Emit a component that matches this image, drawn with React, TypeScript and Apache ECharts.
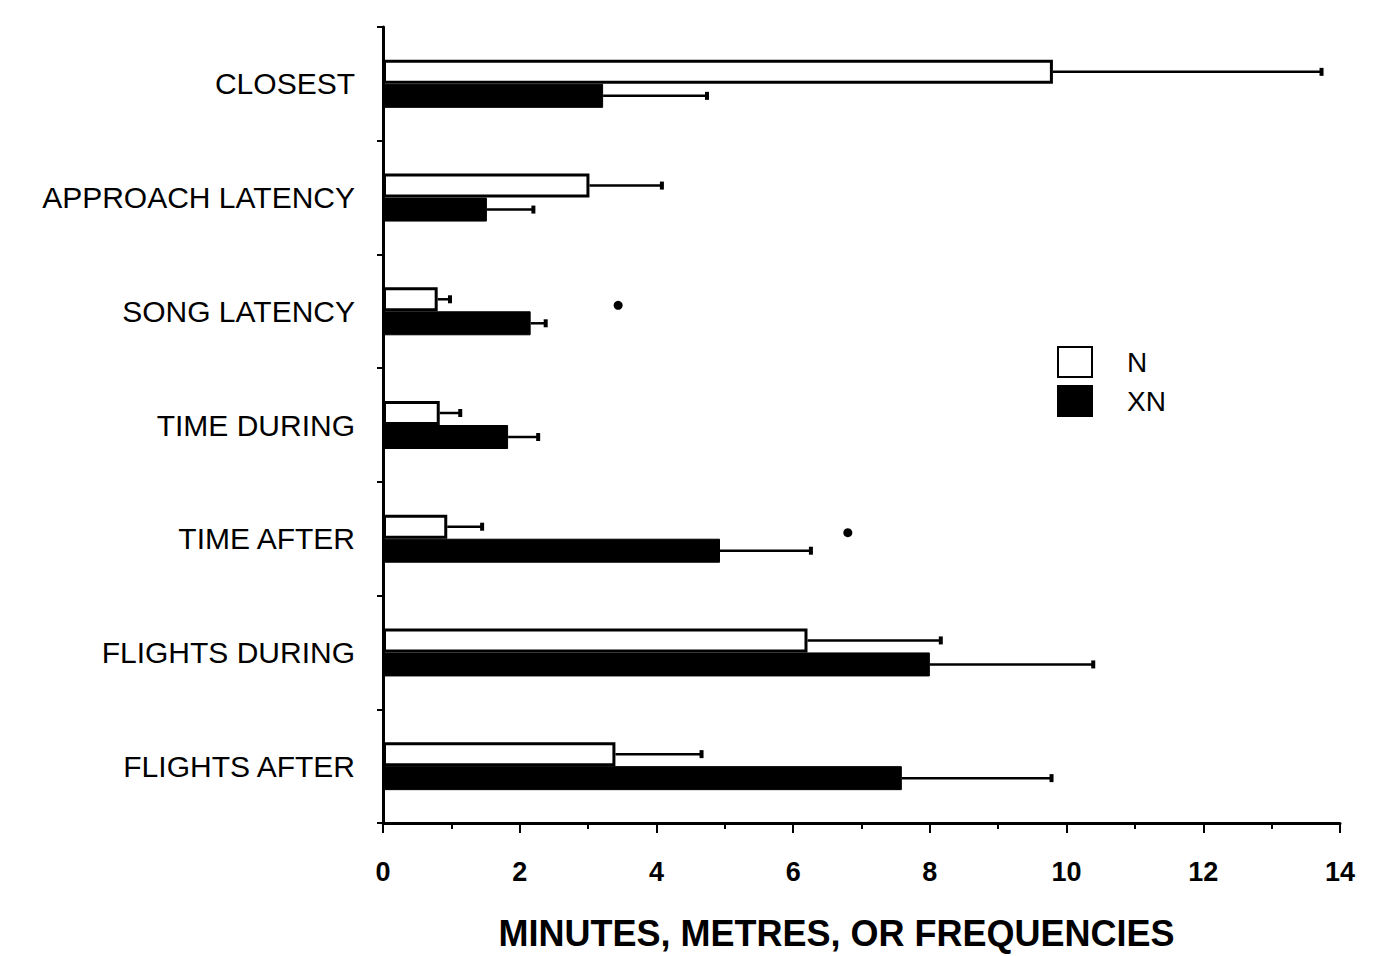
import React, { useEffect, useRef } from 'react';
import * as echarts from 'echarts';

const categories = ['CLOSEST', 'APPROACH LATENCY', 'SONG LATENCY', 'TIME DURING', 'TIME AFTER', 'FLIGHTS DURING', 'FLIGHTS AFTER'];
const seriesNames = ['N', 'XN'];
const nMeans = [9.8, 3.02, 0.8, 0.83, 0.94, 6.21, 3.4];
const nErrorEnds = [13.73, 4.08, 0.98, 1.13, 1.45, 8.16, 4.66];
const xnMeans = [3.22, 1.52, 2.16, 1.83, 4.93, 8.0, 7.59];
const xnErrorEnds = [4.74, 2.2, 2.38, 2.27, 6.26, 10.39, 9.78];
const significanceCategories = ['SONG LATENCY', 'TIME AFTER'];
const significanceX = [3.44, 6.8];
const xAxisTitle = 'MINUTES, METRES, OR FREQUENCIES';

const FONT = "'Liberation Sans', Arial, sans-serif";
const BAR_W = 24;

function errorSeries(name: string, means: number[], ends: number[], offset: number) {
  return {
    name: name + ' error',
    type: 'custom',
    z: 5,
    silent: true,
    encode: { x: [1, 2], y: 0 },
    data: categories.map((_, i) => [i, means[i], ends[i]]),
    renderItem: (params: any, api: any) => {
      const cat = api.value(0);
      const s = api.coord([api.value(1), cat]);
      const e = api.coord([api.value(2), cat]);
      const y = s[1] + offset;
      return {
        type: 'group',
        children: [
          { type: 'line', shape: { x1: s[0], y1: y, x2: e[0], y2: y }, style: { stroke: '#000', lineWidth: 2.5 } },
          { type: 'line', shape: { x1: e[0], y1: y - 4, x2: e[0], y2: y + 4 }, style: { stroke: '#000', lineWidth: 4 } },
        ],
      };
    },
  };
}

export default function App() {
  const ref = useRef<HTMLDivElement>(null);
  useEffect(() => {
    if (!ref.current) return;
    const chart = echarts.init(ref.current, undefined, { renderer: 'svg' });
    chart.setOption({
      animation: false,
      backgroundColor: '#fff',
      textStyle: { fontFamily: FONT, color: '#000' },
      grid: { left: 383, right: 38, top: 27, bottom: 125, containLabel: false },
      legend: {
        orient: 'vertical',
        left: 1052,
        top: 341,
        itemWidth: 34,
        itemHeight: 30,
        itemGap: 7,
        icon: 'rect',
        data: seriesNames,
        textStyle: { fontFamily: FONT, fontSize: 28, color: '#000', padding: [0, 0, 0, 30] },
      },
      xAxis: {
        type: 'value',
        min: 0,
        max: 14,
        interval: 2,
        name: xAxisTitle,
        nameLocation: 'middle',
        nameGap: 92,
        nameTextStyle: { fontFamily: FONT, fontSize: 36, fontWeight: 'bold', color: '#000', padding: [0, 50, 0, 0] },
        axisLine: { show: true, lineStyle: { color: '#000', width: 3 } },
        axisTick: { show: true, length: 10, lineStyle: { color: '#000', width: 2 } },
        minorTick: { show: true, splitNumber: 2, length: 6, lineStyle: { color: '#000', width: 2 } },
        splitLine: { show: false },
        axisLabel: { fontFamily: FONT, fontSize: 27, fontWeight: 'bold', color: '#000', margin: 35 },
      },
      yAxis: {
        type: 'category',
        inverse: true,
        data: categories,
        axisLine: { show: true, lineStyle: { color: '#000', width: 3 } },
        axisTick: { show: true, inside: false, length: 6, lineStyle: { color: '#000', width: 2 } },
        axisLabel: { fontFamily: FONT, fontSize: 30, color: '#000', margin: 28 },
      },
      series: [
        {
          name: 'N',
          type: 'bar',
          barWidth: BAR_W,
          barGap: '0%',
          data: nMeans,
          itemStyle: { color: '#fff', borderColor: '#000', borderWidth: 3 },
        },
        {
          name: 'XN',
          type: 'bar',
          barWidth: BAR_W,
          barGap: '0%',
          data: xnMeans,
          itemStyle: { color: '#000', borderColor: '#000', borderWidth: 1 },
        },
        errorSeries('N', nMeans, nErrorEnds, -BAR_W / 2),
        errorSeries('XN', xnMeans, xnErrorEnds, BAR_W / 2),
        {
          name: 'significance',
          type: 'scatter',
          symbol: 'circle',
          symbolSize: 9,
          symbolOffset: [0, -6],
          itemStyle: { color: '#000', opacity: 1 },
          data: significanceCategories.map((c, i) => [significanceX[i], c]),
        },
      ],
    });
    return () => chart.dispose();
  }, []);
  return <div ref={ref} style={{ position: 'absolute', left: 0, top: 0, width: 1378, height: 956 }} />;
}
